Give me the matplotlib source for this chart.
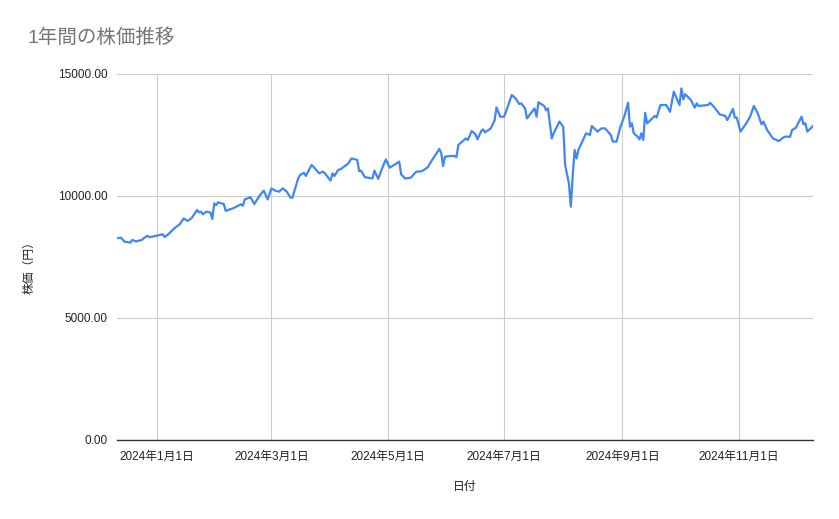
import matplotlib
matplotlib.use("Agg")
import matplotlib.pyplot as plt
import matplotlib.dates as mdates
import pandas as pd

plt.rcParams['font.family'] = ['Liberation Sans', 'Noto Sans CJK JP', 'DejaVu Sans']

title = "1年間の株価推移"
x_label = "日付"
y_label = "株価（円）"

dates = [
    "2023-12-11", "2023-12-13", "2023-12-15", "2023-12-18", "2023-12-19", "2023-12-21",
    "2023-12-24", "2023-12-25", "2023-12-27", "2023-12-28", "2023-12-31", "2024-01-04",
    "2024-01-05", "2024-01-07", "2024-01-10", "2024-01-13", "2024-01-15", "2024-01-17",
    "2024-01-19", "2024-01-22", "2024-01-23", "2024-01-24", "2024-01-25", "2024-01-27",
    "2024-01-29", "2024-01-30", "2024-01-31", "2024-02-01", "2024-02-02", "2024-02-05",
    "2024-02-06", "2024-02-10", "2024-02-14", "2024-02-15", "2024-02-16", "2024-02-19",
    "2024-02-21", "2024-02-24", "2024-02-26", "2024-02-28", "2024-03-01", "2024-03-03",
    "2024-03-05", "2024-03-06", "2024-03-07", "2024-03-09", "2024-03-11", "2024-03-12",
    "2024-03-15", "2024-03-16", "2024-03-18", "2024-03-19", "2024-03-22", "2024-03-23",
    "2024-03-26", "2024-03-28", "2024-03-29", "2024-04-01", "2024-04-02", "2024-04-03",
    "2024-04-05", "2024-04-06", "2024-04-10", "2024-04-12", "2024-04-15", "2024-04-16",
    "2024-04-17", "2024-04-19", "2024-04-23", "2024-04-24", "2024-04-26", "2024-04-28",
    "2024-04-30", "2024-05-02", "2024-05-07", "2024-05-08", "2024-05-10", "2024-05-13",
    "2024-05-16", "2024-05-18", "2024-05-20", "2024-05-22", "2024-05-24", "2024-05-26",
    "2024-05-28", "2024-05-29", "2024-05-30", "2024-05-31", "2024-06-03", "2024-06-05",
    "2024-06-06", "2024-06-07", "2024-06-09", "2024-06-11", "2024-06-12", "2024-06-14",
    "2024-06-16", "2024-06-17", "2024-06-19", "2024-06-20", "2024-06-21", "2024-06-24",
    "2024-06-26", "2024-06-27", "2024-06-29", "2024-07-01", "2024-07-02", "2024-07-05",
    "2024-07-07", "2024-07-09", "2024-07-10", "2024-07-12", "2024-07-13", "2024-07-15",
    "2024-07-17", "2024-07-18", "2024-07-19", "2024-07-22", "2024-07-23", "2024-07-24",
    "2024-07-26", "2024-07-27", "2024-07-30", "2024-08-01", "2024-08-02", "2024-08-04",
    "2024-08-05", "2024-08-06", "2024-08-07", "2024-08-08", "2024-08-09", "2024-08-13",
    "2024-08-15", "2024-08-16", "2024-08-19", "2024-08-21", "2024-08-23", "2024-08-26",
    "2024-08-27", "2024-08-29", "2024-08-31", "2024-09-02", "2024-09-04", "2024-09-05",
    "2024-09-06", "2024-09-07", "2024-09-09", "2024-09-10", "2024-09-11", "2024-09-12",
    "2024-09-13", "2024-09-14", "2024-09-18", "2024-09-19", "2024-09-21", "2024-09-24",
    "2024-09-26", "2024-09-28", "2024-10-01", "2024-10-02", "2024-10-03", "2024-10-04",
    "2024-10-07", "2024-10-09", "2024-10-10", "2024-10-11", "2024-10-16", "2024-10-17",
    "2024-10-19", "2024-10-22", "2024-10-25", "2024-10-26", "2024-10-27", "2024-10-29",
    "2024-10-30", "2024-10-31", "2024-11-02", "2024-11-05", "2024-11-07", "2024-11-09",
    "2024-11-11", "2024-11-13", "2024-11-14", "2024-11-16", "2024-11-19", "2024-11-22",
    "2024-11-25", "2024-11-28", "2024-11-29", "2024-12-01", "2024-12-04", "2024-12-05",
    "2024-12-06", "2024-12-07", "2024-12-10",
]

prices = [
    8270, 8290, 8130, 8090, 8200, 8140,
    8200, 8270, 8370, 8310, 8360, 8430,
    8320, 8440, 8670, 8850, 9080, 8980,
    9080, 9430, 9330, 9360, 9250, 9360,
    9320, 9060, 9700, 9630, 9740, 9670,
    9390, 9500, 9660, 9600, 9860, 9950,
    9670, 10040, 10220, 9860, 10310, 10220,
    10180, 10250, 10310, 10180, 9930, 9930,
    10720, 10860, 10950, 10820, 11270, 11200,
    10930, 11000, 10930, 10630, 10930, 10820,
    11070, 11090, 11310, 11540, 11480, 11020,
    11040, 10770, 10720, 11040, 10700, 11130,
    11500, 11160, 11410, 10890, 10720, 10750,
    11000, 11000, 11070, 11180, 11450, 11680,
    11930, 11770, 11230, 11610, 11640, 11640,
    11590, 12090, 12230, 12360, 12300, 12660,
    12530, 12320, 12660, 12730, 12610, 12770,
    13090, 13630, 13250, 13250, 13460, 14140,
    14000, 13770, 13800, 13590, 13180, 13390,
    13590, 13250, 13840, 13690, 13520, 13590,
    12360, 12570, 13050, 12840, 11270, 10520,
    9560, 10860, 11890, 11540, 11890, 12570,
    12500, 12870, 12640, 12770, 12770, 12500,
    12230, 12230, 12840, 13250, 13820, 12840,
    12980, 12570, 12430, 12320, 12570, 12300,
    13410, 12980, 13280, 13220, 13730, 13730,
    13450, 14280, 13730, 14410, 13960, 14170,
    13930, 13620, 13800, 13690, 13730, 13820,
    13660, 13350, 13280, 13110, 13250, 13570,
    13210, 13220, 12640, 12980, 13250, 13690,
    13390, 12940, 13050, 12700, 12360, 12250,
    12430, 12430, 12700, 12800, 13250, 12940,
    12980, 12640, 12870,
]

x_ticks = ["2024-01-01", "2024-03-01", "2024-05-01", "2024-07-01", "2024-09-01", "2024-11-01"]
x_tick_labels = ["2024年1月1日", "2024年3月1日", "2024年5月1日", "2024年7月1日", "2024年9月1日", "2024年11月1日"]
y_ticks = [0, 5000, 10000, 15000]
y_tick_labels = ["0.00", "5000.00", "10000.00", "15000.00"]

W, H = 839, 519
fig = plt.figure(figsize=(W / 100, H / 100), dpi=100)
fig.patch.set_facecolor("white")
ax = fig.add_axes([117 / W, (H - 440) / H, (813 - 117) / W, (440 - 74) / H])

d = pd.to_datetime(dates)
ax.plot(d, prices, color="#4285F4", linewidth=1.6, solid_joinstyle="round", zorder=3)

ax.set_xlim(d[0], d[-1])
ax.set_ylim(y_ticks[0], y_ticks[-1])
ax.set_xticks(pd.to_datetime(x_ticks))
ax.set_xticklabels(x_tick_labels)
ax.set_yticks(y_ticks)
ax.set_yticklabels(y_tick_labels)

for s in ax.spines.values():
    s.set_visible(False)
ax.grid(True, color="#cccccc", linewidth=0.8, zorder=0)
ax.set_axisbelow(True)
ax.axhline(0, color="#333333", linewidth=1.0, zorder=2, clip_on=False)

ax.tick_params(axis="both", length=0, labelsize=8.5, colors="#222222")
ax.tick_params(axis="y", pad=7)
ax.tick_params(axis="x", pad=8)

fig.text(27 / W, 1 - 38 / H, title, fontsize=14, color="#757575", ha="left", va="center")
fig.text(30 / W, 1 - 265 / H, y_label, fontsize=8.5, color="#222222", rotation=90,
         ha="center", va="center")
fig.text(465 / W, 1 - 487 / H, x_label, fontsize=8.5, color="#222222", ha="center", va="center")

fig.savefig("out.png", dpi=100, facecolor="white")
